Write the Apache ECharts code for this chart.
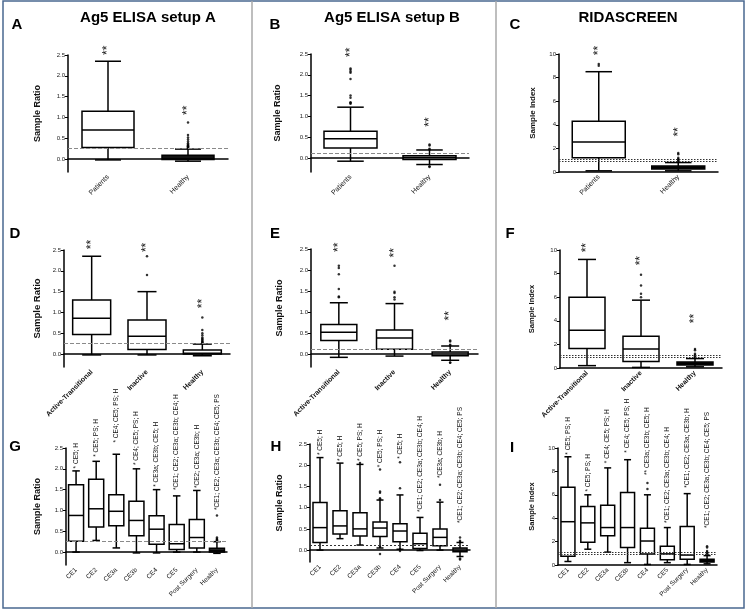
<!DOCTYPE html>
<html><head><meta charset="utf-8">
<script src="https://cdn.jsdelivr.net/npm/echarts@6/dist/echarts.min.js"></script>
<style>html,body{margin:0;padding:0;background:#fff}#c{width:748px;height:610px}</style>
</head><body><div id="c"></div>
<script>
const FONT = '"Liberation Sans", Arial, sans-serif';

// ---- categories ----
const catsPH = ['Patients', 'Healthy'];
const catsAIH = ['Active-Transitional', 'Inactive', 'Healthy'];
const catsCE = ['CE1', 'CE2', 'CE3a', 'CE3b', 'CE4', 'CE5', 'Post Surgery', 'Healthy'];

// ---- tick labels ----
const tickRatio = [0, 0.5, 1, 1.5, 2, 2.5];
const tickIndex = [0, 2, 4, 6, 8, 10];

// ---- box stats [min, Q1, median, Q3, max] ----
const boxA = [[-0.02, 0.28, 0.70, 1.15, 2.35], [-0.05, -0.01, 0.01, 0.09, 0.24]];
const boxB = [[-0.08, 0.24, 0.46, 0.64, 1.22], [-0.16, -0.04, 0.0, 0.05, 0.19]];
const boxC = [[0.1, 1.2, 2.55, 4.3, 8.5], [0.1, 0.25, 0.35, 0.5, 0.8]];
const boxD = [[-0.02, 0.47, 0.86, 1.30, 2.35], [-0.02, 0.11, 0.43, 0.82, 1.5], [-0.04, 0.0, 0.02, 0.1, 0.24]];
const boxE = [[-0.08, 0.32, 0.52, 0.70, 1.22], [-0.05, 0.11, 0.38, 0.57, 1.2], [-0.15, -0.04, 0.0, 0.05, 0.19]];
const boxF = [[0.2, 1.65, 3.2, 6.0, 9.2], [0.05, 0.55, 1.6, 2.7, 5.75], [0.1, 0.25, 0.35, 0.5, 0.8]];
const boxG = [[0.0, 0.26, 0.88, 1.62, 1.95], [0.28, 0.6, 1.04, 1.75, 2.18], [0.1, 0.63, 0.98, 1.38, 2.35],
  [-0.02, 0.39, 0.76, 1.22, 2.0], [-0.02, 0.19, 0.55, 0.87, 1.5], [0.0, 0.06, 0.2, 0.66, 1.35],
  [0.0, 0.1, 0.35, 0.78, 1.48], [-0.03, 0.0, 0.03, 0.09, 0.25]];
const boxH = [[0.0, 0.18, 0.53, 1.12, 2.18], [0.27, 0.38, 0.57, 0.93, 2.05], [0.12, 0.33, 0.5, 0.88, 2.02],
  [0.05, 0.32, 0.52, 0.66, 1.18], [0.02, 0.2, 0.45, 0.62, 1.3], [-0.01, 0.04, 0.15, 0.4, 0.77],
  [0.0, 0.1, 0.3, 0.5, 1.13], [-0.15, -0.04, 0.0, 0.05, 0.18]];
const boxI = [[0.3, 0.75, 3.7, 6.65, 9.25], [1.35, 1.95, 3.6, 5.0, 6.0], [1.1, 2.5, 3.2, 5.1, 8.3],
  [0.2, 1.5, 3.2, 6.2, 9.0], [0.05, 0.95, 2.05, 3.15, 6.0], [0.2, 0.45, 0.95, 1.6, 3.2],
  [0.05, 0.5, 0.85, 3.3, 6.1], [0.1, 0.25, 0.35, 0.5, 0.8]];

// ---- outliers per category ----
const outA = [[], [0.27, 0.28, 0.3, 0.31, 0.33, 0.35, 0.38, 0.42, 0.47, 0.52, 0.58, 0.88]];
const outB = [[1.3, 1.32, 1.34, 1.45, 1.5, 1.9, 2.05, 2.08, 2.12, 2.15], [0.2, 0.22, 0.3, 0.32, -0.2, -0.22]];
const outC = [[9.0, 9.15], [0.85, 0.9, 1.0, 1.05, 1.1, 1.2, 1.5, 1.6]];
const outD = [[], [1.9, 2.35], [0.27, 0.28, 0.3, 0.32, 0.35, 0.37, 0.4, 0.45, 0.5, 0.58, 0.88]];
const outE = [[1.35, 1.37, 1.55, 1.9, 2.05, 2.1], [1.3, 1.35, 1.45, 1.48, 2.1], [0.2, 0.22, 0.3, 0.32, -0.2, -0.21]];
const outF = [[], [6.0, 6.3, 7.0, 7.9], [0.85, 0.9, 1.0, 1.1, 1.2, 1.5, 1.6]];
const outG = [[], [], [], [], [], [], [], [0.27, 0.28, 0.3, 0.32, 0.35, 0.88]];
const outH = [[], [], [2.05], [1.2, 1.22, 1.35, 1.38, 1.9, 0.08, -0.09], [1.46, 2.07, 0.02, -0.02], [], [1.18, 1.54], [0.2, 0.22, 0.3, -0.2, -0.22]];
const outI = [[], [], [], [], [6.5, 7.0], [], [], [0.9, 1.0, 1.1, 1.2, 1.5, 1.6]];

// ---- significance marks (start value per category) ----
const starsA = [2.5, 1.06];
const starsB = [2.43, 0.75];
const starsC = [9.9, 3.0];
const starsD = [2.52, 2.45, 1.1];
const starsE = [2.43, 2.3, 0.8];
const starsF = [9.8, 8.7, 3.8];

// ---- annotations for G, H, I ----
const annoTextG = ['* CE5; H', '* CE5; PS; H', '* CE4; CE5; PS; H', '* CE4; CE5; PS; H', '* CE3a; CE3b; CE5; H',
  '*CE1; CE2; CE3a; CE3b; CE4; H', '*CE2; CE3a; CE3b; H', '*CE1; CE2; CE3a; CE3b; CE4; CE5; PS'];
const annoYG = [2.01, 2.29, 2.63, 2.09, 1.57, 1.49, 1.54, 1.01];
const annoTextH = ['* CE5; H', '* CE5; H', '* CE5; PS; H', '* CE5; PS; H', '* CE5; H',
  '*CE1; CE2; CE3a; CE3b; CE4; H', '*CE3a; CE3b; H', '*CE1; CE2; CE3a; CE3b; CE4; CE5; PS'];
const annoYH = [2.24, 2.1, 2.1, 1.95, 2.15, 0.9, 1.7, 0.64];
const annoTextI = ['* CE5; PS; H', '* CE5; PS; H', '* CE4; CE5; PS; H', '* CE4; CE5; PS; H', '** CE3a; CE3b; CE5; H',
  '*CE1; CE2; CE3a; CE3b; CE4; H', '*CE1; CE2; CE3a; CE3b; H', '*CE1; CE2; CE3a; CE3b; CE4; CE5; PS'];
const annoYI = [9.43, 6.28, 8.7, 9.6, 7.7, 3.6, 6.6, 3.17];

// ---- cutoffs ----
const cutA = [0.26], cutB = [0.12], cutC = [0.9, 1.1];
const cutD = [0.26], cutE = [0.12], cutF = [0.9, 1.1];
const cutG = [0.26], cutH = [0.12], cutI = [0.9, 1.1];

// ---- panel layout / style ----
const dashGray = {color: '#8a8a8a', type: [4, 2], width: 1};
const dotDark = {color: '#333', type: [1.5, 1.5], width: 1};
const panels = [
  {cats: catsPH, box: boxA, out: outA, marks: starsA, cut: cutA, cs: dashGray, g: [68, 55, 160, 117], ymin: -0.31, ymax: 2.5, ticks: tickRatio, dec: 1, yname: 'Sample Ratio', nfs: 9, ngap: 26, bw: 52, fill: ['#fff', '#111'], xfs: 7, xb: false},
  {cats: catsPH, box: boxB, out: outB, marks: starsB, cut: cutB, cs: dashGray, g: [311, 54, 158, 118], ymin: -0.34, ymax: 2.5, ticks: tickRatio, dec: 1, yname: 'Sample Ratio', nfs: 9, ngap: 29, bw: 53, fill: ['#fff', '#aaa'], xfs: 7, xb: false},
  {cats: catsPH, box: boxC, out: outC, marks: starsC, cut: cutC, cs: dotDark, g: [559, 54, 159, 118], ymin: 0, ymax: 10, ticks: tickIndex, dec: 0, yname: 'Sample Index', nfs: 8, ngap: 22, bw: 53, fill: ['#fff', '#111'], xfs: 7, xb: false},
  {cats: catsAIH, box: boxD, out: outD, marks: starsD, cut: cutD, cs: dashGray, g: [64, 250, 166, 117], ymin: -0.31, ymax: 2.5, ticks: tickRatio, dec: 1, yname: 'Sample Ratio', nfs: 9.5, ngap: 22, bw: 38, fill: ['#fff', '#fff', '#fff'], xfs: 7, xb: true},
  {cats: catsAIH, box: boxE, out: outE, marks: starsE, cut: cutE, cs: dashGray, g: [311, 249, 167, 118], ymin: -0.31, ymax: 2.5, ticks: tickRatio, dec: 1, yname: 'Sample Ratio', nfs: 9, ngap: 27, bw: 36, fill: ['#fff', '#fff', '#bbb'], xfs: 7, xb: true},
  {cats: catsAIH, box: boxF, out: outF, marks: starsF, cut: cutF, cs: dotDark, g: [560, 250, 162, 118], ymin: 0, ymax: 10, ticks: tickIndex, dec: 0, yname: 'Sample Index', nfs: 7.5, ngap: 24, bw: 36, fill: ['#fff', '#fff', '#111'], xfs: 7, xb: true},
  {cats: catsCE, box: boxG, out: outG, anno: annoTextG, annoY: annoYG, cut: cutG, cs: dashGray, g: [66, 448, 161, 117], ymin: -0.31, ymax: 2.5, ticks: tickRatio, dec: 1, yname: 'Sample Ratio', nfs: 9, ngap: 24, bw: 15, fill: ['#fff', '#fff', '#fff', '#fff', '#fff', '#fff', '#fff', '#222'], xfs: 6.5, xb: false},
  {cats: catsCE, box: boxH, out: outH, anno: annoTextH, annoY: annoYH, cut: cutH, cs: {color: '#333', type: [2, 2], width: 1}, g: [310, 444, 160, 118], ymin: -0.28, ymax: 2.5, ticks: tickRatio, dec: 1, yname: 'Sample Ratio', nfs: 9, ngap: 26, bw: 14, fill: ['#fff', '#fff', '#fff', '#fff', '#fff', '#fff', '#fff', '#666'], xfs: 6.5, xb: false},
  {cats: catsCE, box: boxI, out: outI, anno: annoTextI, annoY: annoYI, cut: cutI, cs: dotDark, g: [558, 448, 159, 117], ymin: 0, ymax: 10, ticks: tickIndex, dec: 0, yname: 'Sample Index', nfs: 7.5, ngap: 22, bw: 14, fill: ['#fff', '#fff', '#fff', '#fff', '#fff', '#fff', '#fff', '#111'], xfs: 6.5, xb: false}
];

function boxRender(bw, fills) {
  return function (params, api) {
    const x = api.value(0);
    const pMin = api.coord([x, api.value(1)]);
    const pQ1 = api.coord([x, api.value(2)]);
    const pMed = api.coord([x, api.value(3)]);
    const pQ3 = api.coord([x, api.value(4)]);
    const pMax = api.coord([x, api.value(5)]);
    const cx = pMin[0], hw = bw / 2, hc = bw / 4;
    const st = {stroke: '#000', lineWidth: 1.5, fill: null};
    return {type: 'group', children: [
      {type: 'line', shape: {x1: cx, y1: pMax[1], x2: cx, y2: pQ3[1]}, style: st},
      {type: 'line', shape: {x1: cx, y1: pQ1[1], x2: cx, y2: pMin[1]}, style: st},
      {type: 'line', shape: {x1: cx - hc, y1: pMax[1], x2: cx + hc, y2: pMax[1]}, style: st},
      {type: 'line', shape: {x1: cx - hc, y1: pMin[1], x2: cx + hc, y2: pMin[1]}, style: st},
      {type: 'rect', shape: {x: cx - hw, y: pQ3[1], width: bw, height: pQ1[1] - pQ3[1]},
        style: {stroke: '#000', lineWidth: 1.5, fill: fills[params.dataIndex]}},
      {type: 'line', shape: {x1: cx - hw, y1: pMed[1], x2: cx + hw, y2: pMed[1]}, style: st}
    ]};
  };
}

function textRender(texts, size) {
  return function (params, api) {
    const p = api.coord([api.value(0), api.value(1)]);
    return {type: 'text', x: p[0], y: p[1], rotation: Math.PI / 2,
      style: {text: texts[params.dataIndex], fontSize: size, fontFamily: FONT, fill: '#111',
        align: 'left', verticalAlign: 'middle'}};
  };
}

const grids = [], xAxes = [], yAxes = [], series = [];
panels.forEach((p, i) => {
  grids.push({left: p.g[0], top: p.g[1], width: p.g[2], height: p.g[3]});
  xAxes.push({type: 'category', gridIndex: i, data: p.cats, boundaryGap: true,
    axisLine: {lineStyle: {color: '#000', width: 1.5}},
    axisTick: {alignWithLabel: true, length: 3, lineStyle: {color: '#000', width: 1}},
    axisLabel: {rotate: 45, interval: 0, fontSize: p.xfs, fontWeight: p.xb ? 'bold' : 'normal', color: '#111', margin: 4, fontFamily: FONT},
    splitLine: {show: false}});
  yAxes.push({type: 'value', gridIndex: i, min: p.ymin, max: p.ymax,
    name: p.yname, nameLocation: 'middle', nameRotate: 90, nameGap: p.ngap,
    nameTextStyle: {fontSize: p.nfs, fontWeight: 'bold', color: '#111', fontFamily: FONT},
    axisLine: {show: true, lineStyle: {color: '#000', width: 1.5}},
    axisTick: {show: true, length: 3, customValues: p.ticks, lineStyle: {color: '#000', width: 1}},
    axisLabel: {customValues: p.ticks, fontSize: 6, color: '#222', margin: 3, fontFamily: FONT,
      formatter: v => Number(v).toFixed(p.dec)},
    splitLine: {show: false}});
  series.push({type: 'custom', xAxisIndex: i, yAxisIndex: i, renderItem: boxRender(p.bw, p.fill),
    data: p.box.map((b, k) => [k].concat(b)), encode: {x: 0, y: [1, 2, 3, 4, 5]}, z: 3, silent: true});
  const pts = [];
  p.out.forEach((arr, k) => arr.forEach(v => pts.push([k, v])));
  series.push({type: 'scatter', xAxisIndex: i, yAxisIndex: i, data: pts, symbolSize: 2.5,
    itemStyle: {color: '#000'}, silent: true, z: 4,
    markLine: {silent: true, symbol: 'none', label: {show: false}, lineStyle: p.cs,
      data: p.cut.map(v => ({yAxis: v}))}});
  if (p.marks) {
    series.push({type: 'custom', xAxisIndex: i, yAxisIndex: i, renderItem: textRender(p.marks.map(() => '**'), 12),
      data: p.marks.map((v, k) => [k, v]), encode: {x: 0, y: 1}, z: 5, silent: true});
  } else {
    series.push({type: 'custom', xAxisIndex: i, yAxisIndex: i, renderItem: textRender(p.anno, 6.5),
      data: p.annoY.map((v, k) => [k, v]), encode: {x: 0, y: 1}, z: 5, silent: true});
  }
});

function label(txt, x, y, size) {
  return {type: 'text', x: x, y: y, silent: true,
    style: {text: txt, fontSize: size, fontWeight: 'bold', fontFamily: FONT, fill: '#000', align: 'center', verticalAlign: 'middle'}};
}

const graphic = [
  {type: 'rect', silent: true, shape: {x: 3, y: 1, width: 741, height: 607}, style: {fill: null, stroke: '#4a6890', lineWidth: 1.5}},
  {type: 'line', silent: true, shape: {x1: 252, y1: 1, x2: 252, y2: 608}, style: {stroke: '#a8a8a8', lineWidth: 1.5}},
  {type: 'line', silent: true, shape: {x1: 496, y1: 1, x2: 496, y2: 608}, style: {stroke: '#a8a8a8', lineWidth: 1.5}},
  label('Ag5 ELISA setup A', 148, 18, 15),
  label('Ag5 ELISA setup B', 392, 18, 15),
  label('RIDASCREEN', 628, 18, 15),
  label('A', 17, 25, 15), label('B', 275, 25, 15), label('C', 515, 25, 15),
  label('D', 15, 234, 15), label('E', 275, 234, 15), label('F', 510, 234, 15),
  label('G', 15, 447, 15), label('H', 276, 447, 15), label('I', 512, 448, 15)
];

const chart = echarts.init(document.getElementById('c'), null, {renderer: 'canvas'});
chart.setOption({
  animation: false,
  backgroundColor: '#fff',
  grid: grids, xAxis: xAxes, yAxis: yAxes, series: series, graphic: graphic
});
</script></body></html>
